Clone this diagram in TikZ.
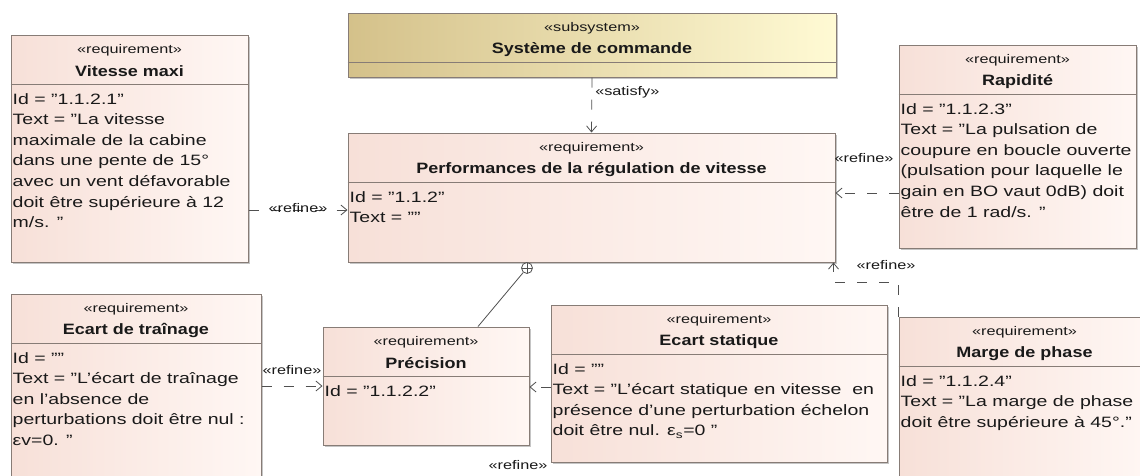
\documentclass[tikz,border=0pt]{standalone}
\usepackage{fontspec}
\setmainfont{Liberation Sans}[UprightFeatures={FakeStretch=1.3},BoldFeatures={FakeStretch=1.2}]
\usetikzlibrary{arrows.meta,fit,shadows}

\definecolor{reqA}{RGB}{247,224,216}
\definecolor{reqB}{RGB}{255,247,244}
\definecolor{subA}{RGB}{212,193,138}
\definecolor{subB}{RGB}{255,250,212}
\definecolor{bordc}{RGB}{135,124,118}
\definecolor{lnk}{RGB}{80,80,80}
\definecolor{txt}{RGB}{25,25,25}

\tikzset{
  reqbox/.style={draw=bordc, line width=1pt, left color=reqA, right color=reqB, inner sep=0pt,
    drop shadow={shadow xshift=2pt, shadow yshift=-2pt, fill=black!50, opacity=.45}},
  subbox/.style={reqbox, left color=subA, right color=subB},
  stereo/.style={font=\fontsize{12.5}{14}\selectfont, text=txt, inner sep=0pt},
  titletext/.style={font=\bfseries\fontsize{15}{18}\selectfont, text=txt, inner sep=0pt},
  bodytext/.style={font=\fontsize{15}{20.6}\selectfont, text=txt, align=left, anchor=north west, inner sep=0pt},
  divline/.style={draw=bordc, line width=1pt},
  lbl/.style={font=\fontsize{12.5}{14}\selectfont, text=txt, inner sep=1pt},
  link/.style={draw=lnk, line width=0.8pt},
  dep/.style={link, dash pattern=on 10pt off 12pt, -{Straight Barb[length=6pt,width=10pt]}},
  contain/.style={circle, draw=lnk, line width=0.8pt, fill=white, minimum size=11pt, inner sep=0pt,
    path picture={\draw[lnk, line width=0.7pt] (path picture bounding box.north) -- (path picture bounding box.south)
      (path picture bounding box.west) -- (path picture bounding box.east);}}
}

% block: name, style, top left, bottom right, stereotype, title, body
\newcommand\umlblock[7]{%
  \node[#2, fit={(#3) (#4)}] (#1) {};
  \node[stereo] (#1-st) at ([yshift=-16pt]#1.north) {«#5»};
  \node[titletext] (#1-ti) at ([yshift=-37pt]#1.north) {#6};
  \draw[divline] ([yshift=-50pt]#1.north west) -- ([yshift=-50pt]#1.north east);
  \node[bodytext] (#1-bd) at ([shift={(2pt,-55pt)}]#1.north west) {\strut #7};
}

\begin{document}
\begin{tikzpicture}[x=1pt,y=-1pt]
  \fill[white] (0,0) rectangle (1140,475);
  \useasboundingbox (0,0) rectangle (1140,475);

  % Blocks
  \umlblock{sub}{subbox}{348,13}{836,77}{subsystem}{Système de commande}{}
  \umlblock{vmax}{reqbox}{11,35}{248,262}{requirement}{Vitesse maxi}{Id = "1.1.2.1"\\Text = "La vitesse\\maximale de la cabine\\dans une pente de 15°\\avec un vent défavorable\\doit être supérieure à 12\\m/s. "}
  \umlblock{perf}{reqbox}{348,133}{835,262}{requirement}{Performances de la régulation de vitesse}{Id = "1.1.2"\\Text = ""}
  \umlblock{rap}{reqbox}{899,45}{1136,248}{requirement}{Rapidité}{Id = "1.1.2.3"\\Text = "La pulsation de\\coupure en boucle ouverte\\(pulsation pour laquelle le\\gain en BO vaut 0dB) doit\\être de 1 rad/s. "}
  \umlblock{trn}{reqbox}{11,294}{261,484}{requirement}{Ecart de traînage}{Id = ""\\Text = "L'écart de traînage\\en l'absence de\\perturbations doit être nul :\\εv=0. "}
  \umlblock{prec}{reqbox}{323,327}{529,445}{requirement}{Précision}{Id = "1.1.2.2"}
  \umlblock{sta}{reqbox}{551,305}{887,462}{requirement}{Ecart statique}{Id = ""\\Text = "L'écart statique en vitesse~ en\\présence d'une perturbation échelon\\doit être nul. ε\textsubscript{s}=0 "}
  \umlblock{mrg}{reqbox}{899,317}{1150,484}{requirement}{Marge de phase}{Id = "1.1.2.4"\\Text = "La marge de phase\\doit être supérieure à 45°."}

  % Satisfy
  \draw[dep] (sub.south) -- node[lbl, pos=0.27, right=2pt] (lsat) {«satisfy»} (perf.north);

  % Refine
  \draw[dep] (vmax.east |- 0,210) -- node[lbl, yshift=2pt] (lref1) {«refine»} (perf.west |- 0,210);
  \draw[dep] (rap.west |- 0,193) -- (perf.east |- 0,193);
  \node[lbl] (lref2) at (864,158) {«refine»};
  \draw[dep] (mrg.north west) -- ++(0,-34) -| ([xshift=-2pt]perf.south east);
  \node[lbl] (lref3) at (886,265) {«refine»};
  \draw[dep] (trn.east |- 0,386) -- node[lbl, above=10pt] (lref4) {«refine»} (prec.west |- 0,386);
  \draw[dep] (sta.west |- 0,387) -- (prec.east |- 0,387);
  \node[lbl] (lref5) at (518,465) {«refine»};

  % Containment
  \node[contain] (cont) at (527,268) {};
  \draw[link] ([xshift=52pt]prec.north) -- (cont);
\end{tikzpicture}
\end{document}
